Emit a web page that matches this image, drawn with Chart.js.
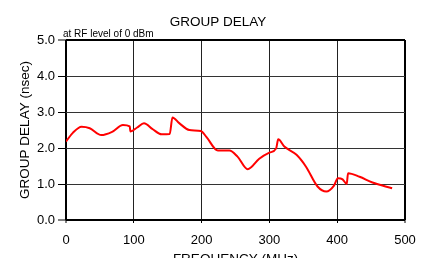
<!DOCTYPE html>
<html>
<head>
<meta charset="utf-8">
<script src="https://cdn.jsdelivr.net/npm/chart.js@4.4.0/dist/chart.umd.min.js"></script>
<style>
  html, body { margin: 0; padding: 0; background: #fff; }
  #wrap { width: 432px; height: 258px; }
</style>
</head>
<body>
<div id="wrap"><canvas id="delayChart" width="432" height="258"></canvas></div>
<script>
// ===== DATA =====
const freqs  = [0, 10, 23, 35, 52, 68, 84, 94, 95, 105, 115, 128, 141, 153, 157, 167, 182, 199, 207, 224, 241, 253, 268, 285, 300, 310, 313, 322, 340, 354, 371, 384, 395, 401, 408, 414, 416, 433, 452, 481];
const delays = [2.18, 2.42, 2.59, 2.55, 2.36, 2.45, 2.64, 2.60, 2.46, 2.57, 2.69, 2.52, 2.38, 2.39, 2.85, 2.69, 2.50, 2.47, 2.31, 1.93, 1.93, 1.76, 1.41, 1.70, 1.87, 1.99, 2.24, 2.04, 1.81, 1.48, 0.93, 0.79, 0.95, 1.16, 1.13, 1.00, 1.30, 1.20, 1.04, 0.88];
const xTicks = [0, 100, 200, 300, 400, 500];
const yTicks = [0, 1, 2, 3, 4, 5];
const yTickLabels = ['0.0', '1.0', '2.0', '3.0', '4.0', '5.0'];

const FONT = "'Liberation Sans', Arial, sans-serif";

// ===== TEXT (titles) =====
const textPlugin = {
    id: 'texts',
    afterDraw(chart) {
        const c = chart.ctx;
        const area = chart.chartArea;
        c.save();
        c.fillStyle = '#000';
        c.textBaseline = 'alphabetic';

        c.font = '13.5px ' + FONT;
        c.textAlign = 'center';
        c.fillText('GROUP DELAY', 218, 25.5);

        c.font = '10px ' + FONT;
        c.textAlign = 'left';
        c.fillText('at RF level of 0 dBm', 63, 37);

        c.font = '13.5px ' + FONT;
        c.textAlign = 'center';
        c.fillText('FREQUENCY (MHz)', (area.left + area.right) / 2, 263);

        c.translate(29, (area.top + area.bottom) / 2);
        c.rotate(-Math.PI / 2);
        c.fillText('GROUP DELAY (nsec)', 0, 0);
        c.restore();
    }
};

const edgeWidth = (ctx, min, max) =>
    (ctx.tick && (ctx.tick.value === min || ctx.tick.value === max)) ? 2 : 1;

new Chart(document.getElementById('delayChart'), {
    type: 'line',
    data: {
        datasets: [{
            data: freqs.map((f, i) => ({ x: f, y: delays[i] })),
            borderColor: '#ff0000',
            borderWidth: 2,
            pointRadius: 0,
            fill: false,
            cubicInterpolationMode: 'monotone'
        }]
    },
    options: {
        responsive: false,
        animation: false,
        devicePixelRatio: 1,
        layout: { padding: { top: 40, right: 27, bottom: 0, left: 0 } },
        plugins: {
            legend: { display: false },
            title: { display: false },
            tooltip: { enabled: false }
        },
        scales: {
            x: {
                type: 'linear',
                min: 0,
                max: 500,
                afterFit: s => { s.height = 38; },
                afterBuildTicks: s => { s.ticks = xTicks.map(v => ({ value: v })); },
                border: { display: false },
                grid: {
                    color: ctx => edgeWidth(ctx, 0, 500) === 2 ? '#000' : '#222',
                    lineWidth: ctx => edgeWidth(ctx, 0, 500),
                    tickLength: 3,
                    tickWidth: 1,
                    tickColor: '#000'
                },
                ticks: {
                    padding: 10,
                    color: '#000',
                    font: { family: FONT, size: 13 },
                    callback: v => String(v)
                }
            },
            y: {
                min: 0,
                max: 5,
                afterFit: s => { s.width = 66; },
                afterBuildTicks: s => { s.ticks = yTicks.map(v => ({ value: v })); },
                border: { display: false },
                grid: {
                    color: ctx => edgeWidth(ctx, 0, 5) === 2 ? '#000' : '#333',
                    lineWidth: ctx => edgeWidth(ctx, 0, 5),
                    tickLength: 8,
                    tickWidth: 1,
                    tickColor: '#000'
                },
                ticks: {
                    padding: 3,
                    color: '#000',
                    font: { family: FONT, size: 13 },
                    callback: v => yTickLabels[yTicks.indexOf(v)]
                }
            }
        }
    },
    plugins: [textPlugin]
});
</script>
</body>
</html>
